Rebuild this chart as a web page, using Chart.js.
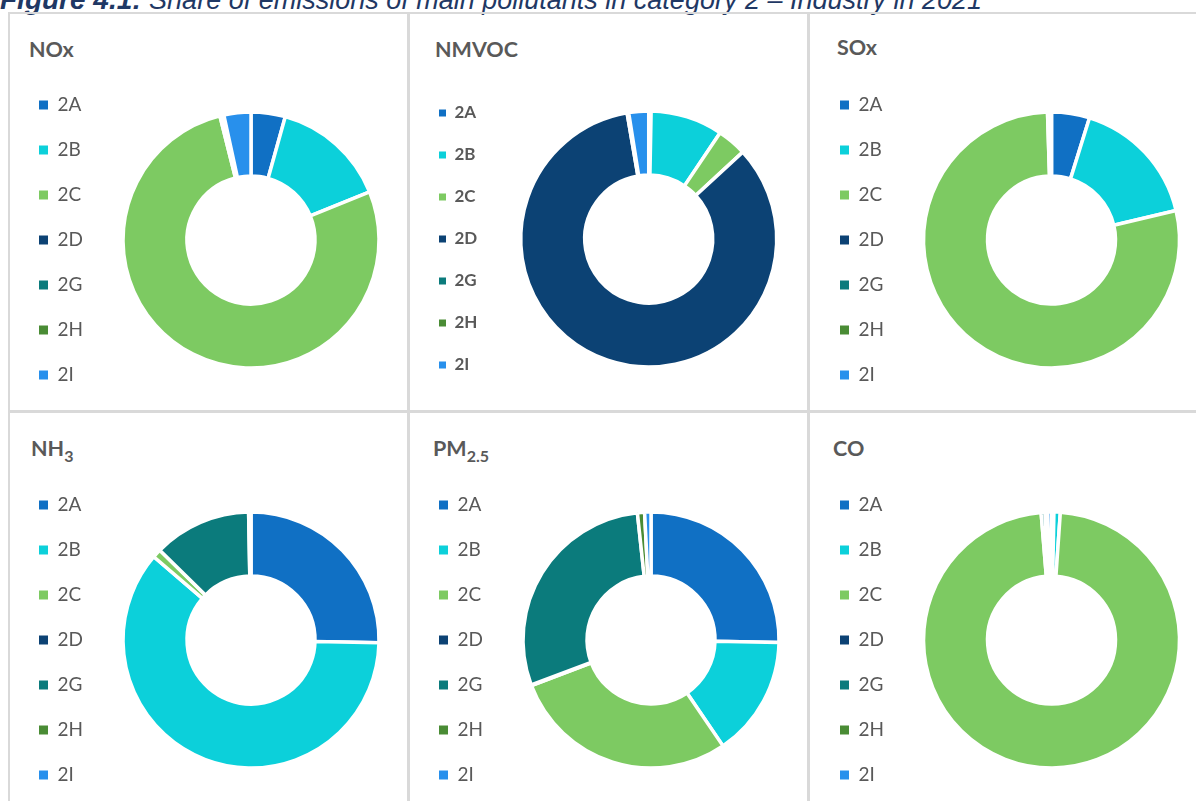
<!DOCTYPE html>
<html>
<head>
<meta charset="utf-8">
<script src="https://cdn.jsdelivr.net/npm/chart.js@4"></script>
<style>
  html, body { margin: 0; padding: 0; background: #fff; }
  #page { position: relative; width: 1196px; height: 801px; overflow: hidden; }
  .caption { position: absolute; left: 0px; top: -14px; font-family: "Liberation Sans", Arial, sans-serif;
             font-style: italic; font-size: 27px; line-height: 27px; color: #1f3864; white-space: nowrap; }
  .caption b { font-size: 28px; }
  .rule { position: absolute; background: #d9d9d9; }
  .title { position: absolute; font-family: Lato, "Open Sans", sans-serif; font-weight: bold; font-size: 21.5px;
           line-height: 21px; color: #595959; white-space: nowrap; }
  .title sub { font-size: 16px; line-height: 0; vertical-align: -6px; }
  canvas { position: absolute; }
</style>
</head>
<body>
<div id="page">
  <div class="caption"><b>Figure 4.1:</b> Share of emissions of main pollutants in category 2 – Industry in 2021</div>
</div>
<script>
// Categories of sector 2 (industry) and their colours
const categories = ['2A', '2B', '2C', '2D', '2G', '2H', '2I'];
const categoryColors = ['#1070c4', '#0cd0da', '#7dca62', '#0c4274', '#0b7b7c', '#4a8c35', '#2890ec'];

// Share of each category in the pollutant's industry total (%)
const noxShare   = [4.3, 14.5, 77.0, 0.0, 0.2, 0.3, 3.4];
const nmvocShare = [0.3, 9.1, 3.7, 84.0, 0.1, 0.1, 2.5];
const soxShare   = [4.8, 16.5, 78.2, 0.0, 0.1, 0.1, 0.3];
const nh3Share   = [25.3, 60.8, 1.1, 0.0, 12.3, 0.1, 0.2];
const pm25Share  = [25.3, 15.2, 28.7, 0.1, 29.0, 0.9, 0.8];
const coShare    = [0.3, 0.8, 97.6, 0.0, 0.5, 0.3, 0.5];

const page = document.getElementById('page');

// table lines of the figure
[
  [8, 12, 1188, 2], [8, 12, 2, 789],
  [407, 12, 3, 789], [807, 12, 3, 789],
  [8, 410, 1188, 3]
].forEach(([x, y, w, h]) => {
  const d = document.createElement('div');
  d.className = 'rule';
  d.style.cssText = `left:${x}px;top:${y}px;width:${w}px;height:${h}px`;
  page.appendChild(d);
});

const panels = [
  { title: 'NOx',                data: noxShare,   titleX: 29,  titleY: 39,  boxX: 39, cx: 251,   cy: 240 },
  { title: 'NMVOC',              data: nmvocShare, titleX: 435, titleY: 39,  boxX: 439, cx: 648.5, cy: 239, boldLegend: true },
  { title: 'SOx',                data: soxShare,   titleX: 837, titleY: 37,  boxX: 840, cx: 1051.5, cy: 240 },
  { title: 'NH<sub>3</sub>',     data: nh3Share,   titleX: 31,  titleY: 438, boxX: 39, cx: 251,   cy: 639.5 },
  { title: 'PM<sub>2.5</sub>',   data: pm25Share,  titleX: 433, titleY: 438, boxX: 439, cx: 651,   cy: 639.5 },
  { title: 'CO',                 data: coShare,    titleX: 833, titleY: 438, boxX: 840, cx: 1051.5, cy: 639.5 }
];

function makeDonut(p) {
  const t = document.createElement('div');
  t.className = 'title';
  t.innerHTML = p.title;
  t.style.left = p.titleX + 'px';
  t.style.top = p.titleY + 'px';
  page.appendChild(t);

  const bold = !!p.boldLegend;
  const fs = bold ? 17 : 19;
  const box = bold ? 7 : 9;
  const gap = bold ? 25 : 26;

  // measure the widest label so the ring lands where it is in the figure
  const m = document.createElement('canvas').getContext('2d');
  m.font = (bold ? 'bold ' : 'normal ') + fs + 'px Lato';
  const textW = Math.max(...categories.map(c => m.measureText(c).width));
  const legendW = gap + box + fs / 2 + textW + 10;

  const left = p.boxX - gap;
  const chartLeft = left + legendW;
  const width = Math.round(2 * (p.cx - chartLeft) + legendW);
  const height = 380;

  const canvas = document.createElement('canvas');
  canvas.width = width;
  canvas.height = height;
  canvas.style.left = left + 'px';
  canvas.style.top = Math.round(p.cy - height / 2) + 'px';
  canvas.style.width = width + 'px';
  canvas.style.height = height + 'px';
  page.appendChild(canvas);

  new Chart(canvas.getContext('2d'), {
    type: 'doughnut',
    data: {
      labels: categories,
      datasets: [{
        data: p.data,
        backgroundColor: categoryColors,
        borderColor: '#ffffff',
        borderWidth: 3.5,
        hoverOffset: 0
      }]
    },
    options: {
      responsive: false,
      animation: false,
      events: [],
      radius: 128,
      cutout: '50%',
      layout: { padding: 0 },
      plugins: {
        tooltip: { enabled: false },
        legend: {
          position: 'left',
          align: 'center',
          labels: {
            boxWidth: box,
            boxHeight: box,
            padding: gap,
            color: '#595959',
            font: { family: 'Lato', size: fs, weight: bold ? 'bold' : 'normal' },
            generateLabels: function(chart) {
              const items = Chart.overrides.doughnut.plugins.legend.labels.generateLabels(chart);
              return items.map(it => Object.assign(it, { lineWidth: 0 }));
            }
          }
        }
      }
    }
  });
}

panels.forEach(makeDonut);
</script>
</body>
</html>
